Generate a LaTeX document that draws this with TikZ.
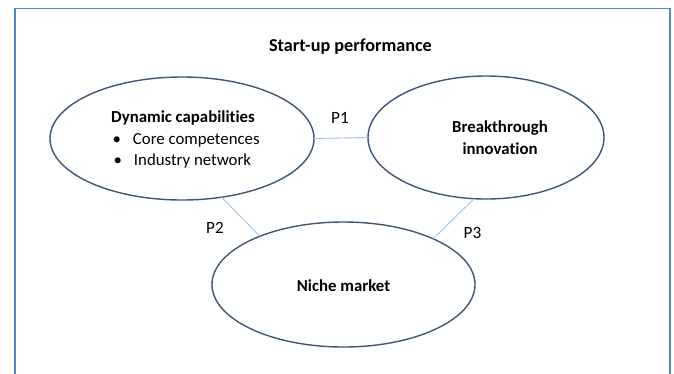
\documentclass[tikz,border=0pt]{standalone}
\usepackage{fontspec}
\setmainfont{Carlito}[Ligatures=NoCommon]
\usetikzlibrary{shapes.geometric}
\definecolor{framecol}{HTML}{5585BE}
\definecolor{ringcol}{HTML}{3D5778}
\definecolor{linkcol}{HTML}{9DC3E6}
\newcommand{\fs}[1]{\fontsize{#1}{#1}\selectfont}
\begin{document}
\begin{tikzpicture}[x=1pt,y=-1pt,
  every node/.style={font=\fs{16.8}, inner sep=0pt, outer sep=0pt},
  ring/.style={draw=ringcol, line width=1.4pt, ellipse, minimum width=2*#1},
  link/.style={draw=linkcol, line width=0.9pt},
  caption/.style={font=\fs{#1}\bfseries}]
  \clip (0,0) rectangle (674,373);
  \fill[white] (0,0) rectangle (674,373);
  % outer frame, open at the bottom edge of the page
  \draw[framecol, line width=1.5pt] (15,380) -- (15,8.5) -- (670,8.5) -- (670,380);

  \node[caption=18.2] (title) at (350.5,47) {Start-up performance};

  % the three constructs
  \node[ring=132pt, minimum height=123pt] (dc) at (182,138.5) {};
  \node[ring=118pt, minimum height=123pt] (bi) at (486,137.5) {};
  \node[ring=131.5pt, minimum height=125pt] (nm) at (343.5,284.5) {};

  \node[caption=16.8] (dctext) at (183,118) {Dynamic capabilities};
  \node[anchor=west] (item1) at (112.5,140) {\makebox[20.5pt][l]{\textbullet}Core competences};
  \node[anchor=west] (item2) at (113.5,161) {\makebox[20.5pt][l]{\textbullet}Industry network};

  \node[caption=16.8] (bitext1) at (500,128) {Breakthrough};
  \node[caption=16.8] (bitext2) at (500,149) {innovation};

  \node[caption=16.8] (nmtext) at (343.5,285.5) {Niche market};

  % propositions linking the constructs
  \draw[link] (dc.east) -- (bi.west);
  \draw[link] (dc.-56.7) -- (nm.150.9);
  \draw[link] (bi.-101.8) -- (nm.27.4);

  \node[font=\fs{17.2}] (p1) at (340,118) {P1};
  \node[font=\fs{17.2}] (p2) at (215,228) {P2};
  \node[font=\fs{17.2}] (p3) at (472.5,232.5) {P3};
\end{tikzpicture}
\end{document}
